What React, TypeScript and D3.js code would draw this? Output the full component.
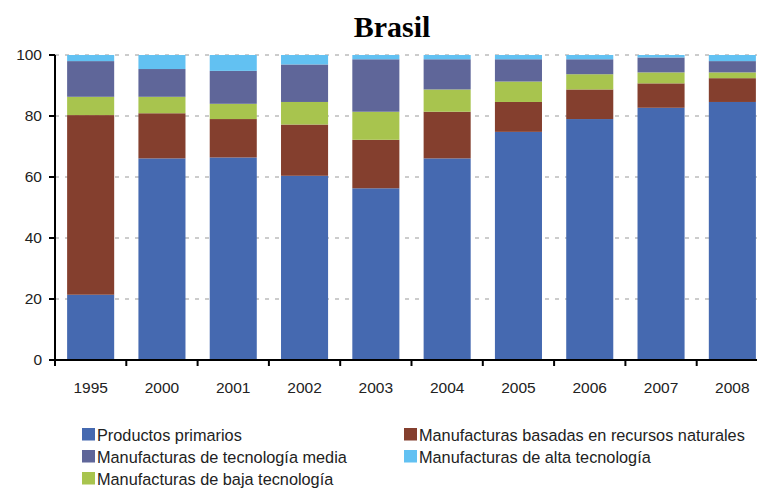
import React from "react";
import * as d3 from "d3";

const years = ["1995", "2000", "2001", "2002", "2003", "2004", "2005", "2006", "2007", "2008"];
const primarios = [21.4, 66.1, 66.4, 60.4, 56.3, 66.1, 74.8, 79.0, 82.7, 84.6];
const recursosNaturales = [58.9, 14.8, 12.6, 16.8, 15.9, 15.3, 9.8, 9.7, 8.0, 7.8];
const bajaTecnologia = [6.0, 5.4, 5.0, 7.4, 9.2, 7.3, 6.7, 5.0, 3.6, 1.9];
const tecnologiaMedia = [11.7, 9.1, 10.8, 12.3, 17.2, 9.9, 7.3, 4.9, 4.9, 3.7];
const altaTecnologia = [2.0, 4.6, 5.2, 3.1, 1.4, 1.4, 1.4, 1.4, 0.8, 2.0];
const yTicks = [0, 20, 40, 60, 80, 100];

const seriesKeys = ["primarios", "naturales", "baja", "media", "alta"];
const seriesNames: Record<string, string> = {
  primarios: "Productos primarios",
  naturales: "Manufacturas basadas en recursos naturales",
  media: "Manufacturas de tecnología media",
  alta: "Manufacturas de alta tecnología",
  baja: "Manufacturas de baja tecnología",
};
const colors: Record<string, string> = {
  primarios: "#4569B0",
  naturales: "#843F2E",
  baja: "#A8C44E",
  media: "#5F6699",
  alta: "#62C1F2",
};
const legendOrder = ["primarios", "naturales", "media", "alta", "baja"];

export default function App() {
  const W = 757, H = 488;
  const left = 55, top = 55, bottom = 360;
  const step = 71.3;
  const x = d3.scaleBand<string>().domain(years).range([left, left + step * years.length]).paddingInner(0.34).paddingOuter(0.17);
  const y = d3.scaleLinear().domain([0, 100]).range([bottom, top]);

  const rows = years.map((yr, i) => ({
    year: yr,
    primarios: primarios[i],
    naturales: recursosNaturales[i],
    baja: bajaTecnologia[i],
    media: tecnologiaMedia[i],
    alta: altaTecnologia[i],
  }));
  const stack = d3.stack<any>().keys(seriesKeys);
  const stacked = stack(rows);

  const font = "'Liberation Sans', Arial, sans-serif";

  return (
    <svg width={W} height={H} style={{ position: "absolute", left: 0, top: 0 }}>
      <rect width={W} height={H} fill="#fff" />
      <text x={392} y={37} textAnchor="middle" fontFamily="'Liberation Serif', 'Times New Roman', serif" fontWeight="bold" fontSize={30}>Brasil</text>
      {yTicks.filter(t => t > 0).map(t => (
        <line key={t} x1={left} x2={W} y1={y(t)} y2={y(t)} stroke="#9a9a9a" strokeWidth={1.2} strokeDasharray="4,6" />
      ))}
      {stacked.map(s => (
        <g key={s.key} fill={colors[s.key]}>
          {s.map((d, i) => (
            <rect key={i} x={x(years[i])} width={x.bandwidth()} y={y(d[1])} height={Math.max(0, y(d[0]) - y(d[1]))} />
          ))}
        </g>
      ))}
      <line x1={left} x2={left} y1={top} y2={bottom + 1} stroke="#000" strokeWidth={2} />
      <line x1={left} x2={left + step * years.length} y1={bottom} y2={bottom} stroke="#000" strokeWidth={2} />
      {yTicks.map(t => (
        <g key={t}>
          <line x1={left - 6} x2={left} y1={y(t)} y2={y(t)} stroke="#000" strokeWidth={2} />
          <text x={42} y={y(t)} dy="0.35em" textAnchor="end" fontFamily={font} fontSize={15.5} fill="#222">{t}</text>
        </g>
      ))}
      {years.map((yr, i) => (
        <g key={yr}>
          <line x1={left + step * i} x2={left + step * i} y1={bottom} y2={bottom + 6} stroke="#000" strokeWidth={2} />
          <text x={(x(yr) as number) + x.bandwidth() / 2} y={392.5} textAnchor="middle" fontFamily={font} fontSize={15.5} fill="#222">{yr}</text>
        </g>
      ))}
      {legendOrder.map((k, i) => {
        const col = i % 2;
        const row = Math.floor(i / 2);
        const lx = col === 0 ? 82 : 404;
        const ly = 440.5 + row * 22;
        return (
          <g key={k}>
            <rect x={lx} y={ly - 12.5} width={13} height={12.5} fill={colors[k]} />
            <text x={lx + 15} y={ly} fontFamily={font} fontSize={16.3} fill="#222">{seriesNames[k]}</text>
          </g>
        );
      })}
    </svg>
  );
}
